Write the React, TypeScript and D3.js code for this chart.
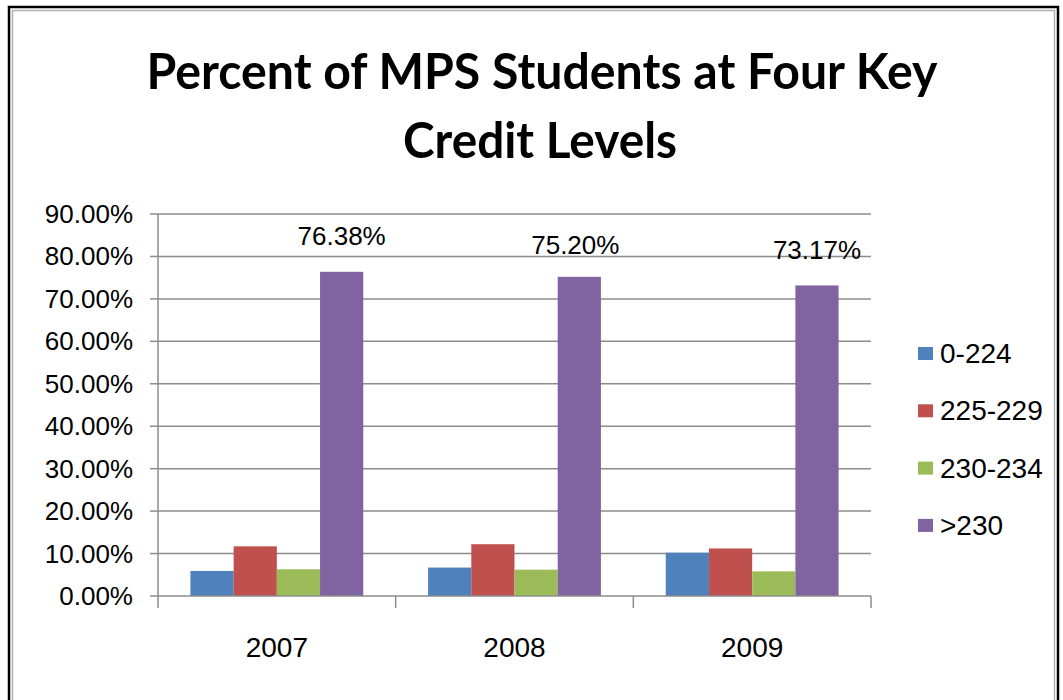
import React from "react";
import * as d3 from "d3";

const categories = ["2007", "2008", "2009"];
const seriesNames = ["0-224", "225-229", "230-234", ">230"];
const s0_224 = [0.059, 0.067, 0.102];
const s225_229 = [0.117, 0.122, 0.112];
const s230_234 = [0.063, 0.062, 0.058];
const sOver230 = [0.7638, 0.752, 0.7317];
const seriesValues = [s0_224, s225_229, s230_234, sOver230];
const colors = ["#4F81BD", "#C0504D", "#9BBB59", "#8064A2"];
const yTicks = [0, 0.1, 0.2, 0.3, 0.4, 0.5, 0.6, 0.7, 0.8, 0.9];
const titleLines = ["Percent of MPS Students at Four Key", "Credit Levels"];

export default function App() {
  const W = 1063, H = 700;
  const left = 158, right = 871, top = 214, bottom = 596;
  const x0 = d3.scaleBand<string>().domain(categories).range([left, right]).padding(0);
  const x1 = d3.scaleBand<string>().domain(seriesNames).range([0, x0.bandwidth()]).paddingInner(0).paddingOuter(0.75);
  const y = d3.scaleLinear().domain([0, 0.9]).range([bottom, top]);
  const fmt = (v: number) => (v * 100).toFixed(2) + "%";
  const axisFont = "'Liberation Sans', Arial, sans-serif";
  const gridColor = "#8c8c8c";
  const labelOffsets = [27, 23, 26];

  return (
    <svg width={W} height={H} style={{ position: "absolute", left: 0, top: 0, display: "block" }}>
      <rect x={0} y={0} width={W} height={H} fill="#ffffff" />
      <rect x={9} y={7} width={1049} height={720} fill="none" stroke="#000" strokeWidth={2.5} />
      <rect x={12.5} y={10.5} width={1042} height={712} fill="none" stroke="#b0b0b0" strokeWidth={1.5} />
      {titleLines.map((t, i) => (
        <text key={t} x={i === 0 ? 542 : 540} y={i === 0 ? 89 : 158} textAnchor="middle"
          fontFamily="Lato, 'Open Sans', sans-serif" fontWeight="bold" fontSize={50}
          textLength={i === 0 ? 791 : 274} lengthAdjust="spacingAndGlyphs" fill="#000">{t}</text>
      ))}
      {yTicks.map((t) => (
        <g key={t}>
          {t > 0 && <line x1={left} x2={right} y1={y(t)} y2={y(t)} stroke={gridColor} strokeWidth={1.5} />}
          <line x1={left - 8} x2={left} y1={y(t)} y2={y(t)} stroke={gridColor} strokeWidth={1.5} />
          <text x={133} y={y(t) + 9} textAnchor="end" fontFamily={axisFont} fontSize={26} fill="#000">{fmt(t)}</text>
        </g>
      ))}
      {categories.map((c, ci) => (
        <g key={c}>
          {seriesNames.map((s, si) => {
            const v = seriesValues[si][ci];
            return (
              <rect key={s} x={(x0(c) as number) + (x1(s) as number)} y={y(v)} width={x1.bandwidth()}
                height={bottom - y(v)} fill={colors[si]} />
            );
          })}
          <text x={(x0(c) as number) + (x1(">230") as number) + x1.bandwidth() / 2 - (ci === 1 ? 4 : 0)}
            y={y(sOver230[ci]) - labelOffsets[ci]} textAnchor="middle" fontFamily={axisFont} fontSize={26} fill="#000">
            {fmt(sOver230[ci])}
          </text>
          <text x={(x0(c) as number) + x0.bandwidth() / 2} y={657} textAnchor="middle" fontFamily={axisFont} fontSize={28} fill="#000">{c}</text>
        </g>
      ))}
      <line x1={left} x2={left} y1={top} y2={bottom} stroke={gridColor} strokeWidth={1.5} />
      <line x1={left} x2={right} y1={bottom} y2={bottom} stroke={gridColor} strokeWidth={1.5} />
      {[...categories.map((c) => x0(c) as number), right].map((xx, i) => (
        <line key={i} x1={xx} x2={xx} y1={bottom} y2={bottom + 12} stroke={gridColor} strokeWidth={1.5} />
      ))}
      {seriesNames.map((s, i) => (
        <g key={s} transform={`translate(918, ${354 + i * 57.3})`}>
          <rect x={0} y={-7} width={15} height={13} fill={colors[i]} />
          <text x={22} y={9} fontFamily={axisFont} fontSize={28} fill="#000">{s}</text>
        </g>
      ))}
    </svg>
  );
}
